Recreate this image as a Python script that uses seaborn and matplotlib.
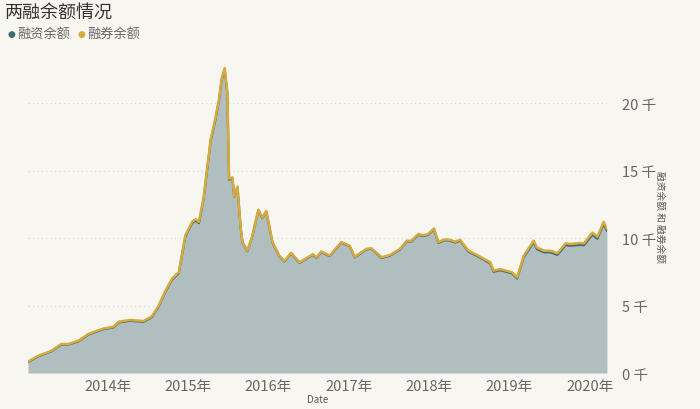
import pandas as pd
import matplotlib
matplotlib.use("Agg")
import matplotlib.pyplot as plt
import seaborn as sns

dates = [
    "2013-01-04", "2013-02-20", "2013-04-21", "2013-06-04", "2013-07-07", "2013-08-22",
    "2013-10-06", "2013-11-06", "2013-12-14", "2014-01-28", "2014-02-20", "2014-04-14",
    "2014-06-13", "2014-07-21", "2014-08-21", "2014-09-21", "2014-10-21", "2014-11-20",
    "2014-12-20", "2015-01-20", "2015-02-05", "2015-02-20", "2015-03-14", "2015-04-14",
    "2015-05-06", "2015-05-22", "2015-06-03", "2015-06-17", "2015-06-29", "2015-07-07",
    "2015-07-22", "2015-07-30", "2015-08-14", "2015-08-29", "2015-09-06", "2015-09-28",
    "2015-10-21", "2015-11-17", "2015-12-05", "2015-12-23", "2016-01-20", "2016-02-20",
    "2016-03-14", "2016-04-14", "2016-05-22", "2016-07-22", "2016-08-07", "2016-08-29",
    "2016-10-06", "2016-11-28", "2017-01-05", "2017-01-28", "2017-03-22", "2017-04-14",
    "2017-05-30", "2017-07-07", "2017-08-22", "2017-09-21", "2017-10-13", "2017-11-13",
    "2017-12-05", "2017-12-28", "2018-01-23", "2018-02-12", "2018-03-14", "2018-04-06",
    "2018-04-29", "2018-05-22", "2018-06-29", "2018-08-07", "2018-10-06", "2018-10-21",
    "2018-11-20", "2019-01-13", "2019-02-05", "2019-03-07", "2019-04-21", "2019-05-06",
    "2019-06-07", "2019-07-07", "2019-08-07", "2019-09-13", "2019-10-06", "2019-11-20",
    "2019-12-05", "2020-01-13", "2020-02-05", "2020-03-04", "2020-03-19",
]

# 融资余额 (千)
financing = [
    0.80, 1.24, 1.61, 2.11, 2.11, 2.35,
    2.85, 3.03, 3.25, 3.38, 3.75, 3.87,
    3.79, 4.14, 4.93, 6.03, 6.92, 7.38,
    10.11, 11.11, 11.30, 11.10, 13.00, 17.19,
    18.79, 20.19, 21.70, 22.50, 20.70, 14.32,
    14.44, 13.06, 13.76, 10.66, 9.66, 9.02,
    10.16, 12.06, 11.46, 11.96, 9.66, 8.66,
    8.26, 8.86, 8.16, 8.76, 8.53, 8.96,
    8.66, 9.66, 9.39, 8.56, 9.16, 9.20,
    8.52, 8.69, 9.15, 9.75, 9.75, 10.24,
    10.14, 10.24, 10.64, 9.64, 9.84, 9.81,
    9.67, 9.81, 8.99, 8.67, 8.12, 7.50,
    7.62, 7.38, 7.00, 8.58, 9.68, 9.18,
    8.94, 8.94, 8.75, 9.47, 9.43, 9.49,
    9.46, 10.25, 9.95, 11.04, 10.54,
]

# 融券余额 (千)
short = [
    0.04, 0.04, 0.04, 0.04, 0.04, 0.05,
    0.05, 0.05, 0.05, 0.05, 0.05, 0.06,
    0.06, 0.06, 0.07, 0.07, 0.08, 0.08,
    0.09, 0.09, 0.10, 0.10, 0.10, 0.11,
    0.11, 0.11, 0.10, 0.10, 0.10, 0.08,
    0.06, 0.04, 0.04, 0.04, 0.04, 0.04,
    0.04, 0.04, 0.04, 0.04, 0.04, 0.04,
    0.04, 0.04, 0.04, 0.04, 0.04, 0.04,
    0.04, 0.04, 0.04, 0.04, 0.04, 0.04,
    0.05, 0.05, 0.05, 0.05, 0.05, 0.06,
    0.06, 0.06, 0.06, 0.06, 0.06, 0.06,
    0.06, 0.06, 0.07, 0.07, 0.08, 0.08,
    0.08, 0.08, 0.09, 0.11, 0.12, 0.12,
    0.12, 0.12, 0.12, 0.13, 0.13, 0.14,
    0.14, 0.15, 0.15, 0.16, 0.16,
]

y_ticks = [0, 5, 10, 15, 20]
y_tick_labels = ["0 千", "5 千", "10 千", "15 千", "20 千"]
x_years = [2014, 2015, 2016, 2017, 2018, 2019, 2020]
series_names = ["融资余额", "融券余额"]

BG = "#f8f6f1"
TEAL = "#3f6c75"
GOLD = "#d6aa3c"
FILL = "#b0bec0"
GRAY = "#666666"


def main():
    sns.set_style("white")
    plt.rcParams["font.family"] = ["Noto Sans CJK SC", "DejaVu Sans"]

    df = pd.DataFrame({
        "Date": pd.to_datetime(dates),
        "融资余额": financing,
        "融券余额": short,
    })
    df["total"] = df["融资余额"] + df["融券余额"]

    fig = plt.figure(figsize=(7, 4.1), dpi=100, facecolor=BG)
    ax = fig.add_axes([0.04, 0.0878, 0.827, 0.767])
    ax.set_facecolor(BG)

    ax.fill_between(df["Date"], 0, df["total"], color=FILL, lw=0)
    sns.lineplot(data=df, x="Date", y="融资余额", color=TEAL, lw=1.6, ax=ax)
    sns.lineplot(data=df, x="Date", y="total", color=GOLD, lw=1.8, ax=ax)

    ax.set_xlim(df["Date"].min(), df["Date"].max())
    ax.set_ylim(0, 23.3)

    # dotted grid
    for v in y_ticks:
        ax.axhline(v, color="#d3d3d3", lw=0.8, ls=(0, (1, 3)), zorder=0)
    for s in ax.spines.values():
        s.set_visible(False)

    ax.yaxis.tick_right()
    ax.set_yticks(y_ticks)
    ax.set_yticklabels(y_tick_labels, fontsize=10.5, color=GRAY)
    ax.tick_params(axis="y", length=0, pad=11)

    ax.set_xticks([pd.Timestamp(f"{y}-01-01") for y in x_years])
    ax.set_xticklabels([f"{y}年" for y in x_years], fontsize=10.5, color=GRAY)
    ax.tick_params(axis="x", length=0, pad=4)

    ax.set_xlabel("Date", fontsize=7, color="#555555", labelpad=1)
    ax.yaxis.set_label_position("right")
    ax.set_ylabel("融资余额 和 融券余额", fontsize=7, color="#555555",
                  rotation=270, labelpad=6)

    fig.text(0.007, 0.97, "两融余额情况", fontsize=13, color="#333333",
             ha="left", va="center")

    # legend
    fig.text(0.011, 0.915, "●", fontsize=6.5, color=TEAL, ha="left", va="center",
             family=["DejaVu Sans"])
    fig.text(0.024, 0.915, series_names[0], fontsize=9.5, color=GRAY,
             ha="left", va="center")
    fig.text(0.111, 0.915, "●", fontsize=6.5, color=GOLD, ha="left", va="center",
             family=["DejaVu Sans"])
    fig.text(0.124, 0.915, series_names[1], fontsize=9.5, color=GRAY,
             ha="left", va="center")

    fig.savefig("out.png", dpi=100, facecolor=BG)
    plt.close(fig)


if __name__ == "__main__":
    main()
